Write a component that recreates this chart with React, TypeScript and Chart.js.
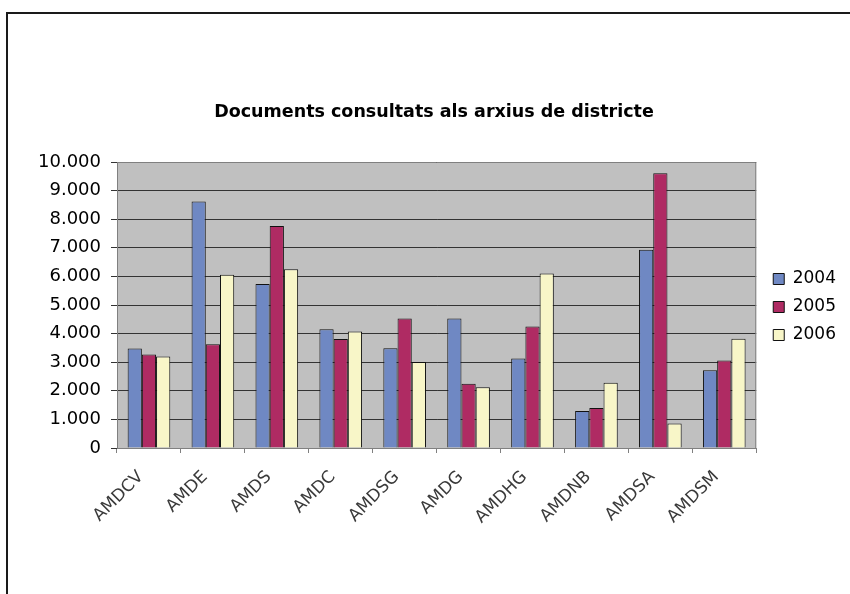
import React, { useEffect, useRef } from 'react';
import { Chart, registerables } from 'chart.js';

Chart.register(...registerables);

const categories = ['AMDCV', 'AMDE', 'AMDS', 'AMDC', 'AMDSG', 'AMDG', 'AMDHG', 'AMDNB', 'AMDSA', 'AMDSM'];
const seriesLabels = ['2004', '2005', '2006'];
const values2004 = [3480, 8620, 5730, 4150, 3490, 4530, 3130, 1290, 6930, 2720];
const values2005 = [3270, 3630, 7760, 3810, 4530, 2250, 4250, 1400, 9610, 3060];
const values2006 = [3200, 6060, 6250, 4070, 3010, 2120, 6100, 2280, 860, 3820];
const yMin = 0;
const yMax = 10000;
const yStep = 1000;
const titleText = 'Documents consultats als arxius de districte';

const seriesColors = ['#6F88C3', '#AF2B63', '#F8F6C8'];

const fmt = (v: number) => String(v).replace(/\B(?=(\d{3})+(?!\d))/g, '.');

const plotBg = {
  id: 'plotBg',
  afterLayout(chart: any) {
    const lg = chart.legend;
    if (lg) {
      lg.left += 6;
      lg.right += 6;
      lg.top += 10;
      lg.bottom += 10;
    }
  },
  beforeDraw(chart: any) {
    const { ctx, chartArea: a } = chart;
    ctx.save();
    ctx.fillStyle = '#C0C0C0';
    ctx.fillRect(a.left, a.top, a.right - a.left, a.bottom - a.top);
    ctx.restore();
  },
  afterDatasetsDraw(chart: any) {
    const { ctx, chartArea: a } = chart;
    ctx.save();
    ctx.strokeStyle = '#808080';
    ctx.lineWidth = 1;
    ctx.beginPath();
    ctx.moveTo(a.left, a.top + 0.5);
    ctx.lineTo(a.right - 0.5, a.top + 0.5);
    ctx.lineTo(a.right - 0.5, a.bottom);
    ctx.stroke();
    ctx.restore();
  },
};

export default function App() {
  const ref = useRef<HTMLCanvasElement | null>(null);
  useEffect(() => {
    if (!ref.current) return;
    const allValues = [values2004, values2005, values2006];
    const chart = new Chart(ref.current, {
      type: 'bar',
      data: {
        labels: categories,
        datasets: seriesLabels.map((l, i) => ({
          label: l,
          data: allValues[i],
          backgroundColor: seriesColors[i],
          borderColor: '#111111',
          borderWidth: 1,
          categoryPercentage: 0.667,
          barPercentage: 1.0,
        })),
      },
      options: {
        animation: false,
        responsive: false,
        maintainAspectRatio: false,
        layout: { padding: { left: 28, right: 10, top: 0, bottom: 0 } },
        plugins: {
          tooltip: { enabled: false },
          title: {
            display: true,
            text: titleText,
            color: '#000',
            font: { family: 'DejaVu Sans', size: 17.5, weight: 'bold', lineHeight: 1.2 },
            padding: { top: 101.5, bottom: 39.5 },
          },
          legend: {
            display: true,
            position: 'right',
            labels: {
              color: '#000',
              font: { family: 'DejaVu Sans', size: 17, lineHeight: 1.2 },
              boxWidth: 11,
              boxHeight: 11,
              padding: 11,
            },
          },
        },
        scales: {
          x: {
            grid: {
              display: true,
              drawOnChartArea: false,
              drawTicks: true,
              tickLength: 5,
              color: '#808080',
              offset: true,
            },
            border: { display: true, color: '#808080' },
            ticks: {
              color: '#3a3a3a',
              font: { family: 'DejaVu Sans', size: 17 },
              minRotation: 45,
              maxRotation: 45,
              autoSkip: false,
              padding: 14,
              labelOffset: -8,
            },
            afterFit(scale: any) {
              scale.height = 146;
            },
          },
          y: {
            min: yMin,
            max: yMax,
            grid: { color: '#333', tickLength: 6, drawTicks: true },
            border: { display: true, color: '#808080' },
            ticks: {
              stepSize: yStep,
              color: '#000',
              font: { family: 'DejaVu Sans', size: 18 },
              padding: 10,
              callback: (v: any) => fmt(Number(v)),
            },
            afterFit(scale: any) {
              scale.width = 89;
            },
          },
        },
      },
      plugins: [plotBg],
    });
    return () => chart.destroy();
  }, []);

  return (
    <div style={{ position: 'absolute', left: 0, top: 0, width: 850, height: 594, overflow: 'hidden', background: '#fff' }}>
      <div
        style={{
          position: 'absolute',
          left: 6,
          top: 12,
          width: 900,
          height: 700,
          border: '2px solid #1a1a1a',
          boxSizing: 'border-box',
        }}
      />
      <canvas ref={ref} width={850} height={594} style={{ position: 'absolute', left: 0, top: 0, width: 850, height: 594 }} />
    </div>
  );
}
